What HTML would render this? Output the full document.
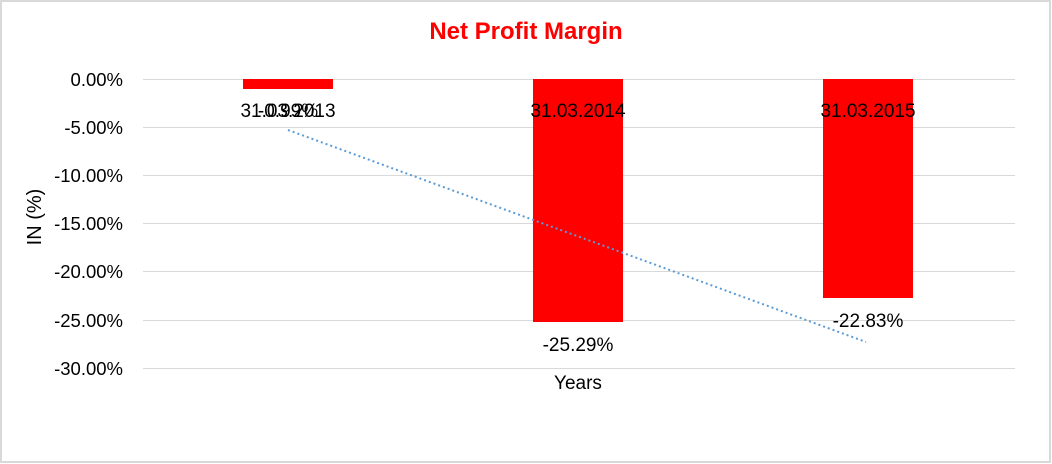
<!DOCTYPE html>
<html><head><style>
html,body{margin:0;padding:0;background:#fff;}
svg{display:block;font-family:"Liberation Sans",Arial,sans-serif;}
</style></head><body>
<svg width="1052" height="464" viewBox="0 0 1052 464">
<rect x="1" y="1" width="1049" height="461" fill="#fff" stroke="#d9d9d9" stroke-width="2"/>
<text x="526" y="39" text-anchor="middle" font-size="24" font-weight="bold" fill="#ff0000">Net Profit Margin</text>
<g stroke="#d9d9d9" stroke-width="1">
<line x1="143" x2="1015" y1="79.5" y2="79.5"/>
<line x1="143" x2="1015" y1="127.5" y2="127.5"/>
<line x1="143" x2="1015" y1="175.5" y2="175.5"/>
<line x1="143" x2="1015" y1="223.5" y2="223.5"/>
<line x1="143" x2="1015" y1="271.5" y2="271.5"/>
<line x1="143" x2="1015" y1="320.5" y2="320.5"/>
<line x1="143" x2="1015" y1="368.5" y2="368.5"/>
</g>
<g font-size="18.5" fill="#000" text-anchor="end">
<text x="123" y="86">0.00%</text>
<text x="123" y="134">-5.00%</text>
<text x="123" y="182">-10.00%</text>
<text x="123" y="230">-15.00%</text>
<text x="123" y="278">-20.00%</text>
<text x="123" y="327">-25.00%</text>
<text x="123" y="375">-30.00%</text>
</g>
<text transform="translate(41,217) rotate(-90)" text-anchor="middle" font-size="20">IN (%)</text>
<text x="578" y="389" text-anchor="middle" font-size="19">Years</text>
<g fill="#ff0000">
<rect x="243" y="79" width="90" height="10"/>
<rect x="533" y="79" width="90" height="243"/>
<rect x="823" y="79" width="90" height="219"/>
</g>
<line x1="288" y1="130" x2="866" y2="342" stroke="#5b9bd5" stroke-width="2" stroke-dasharray="2,3"/>
<g font-size="19" fill="#000" text-anchor="middle">
<text x="288" y="117">31.03.2013</text>
<text x="288" y="117">-0.99%</text>
<text x="578" y="117">31.03.2014</text>
<text x="868" y="117">31.03.2015</text>
<text x="578" y="351">-25.29%</text>
<text x="868" y="327">-22.83%</text>
</g>
</svg>
</body></html>
